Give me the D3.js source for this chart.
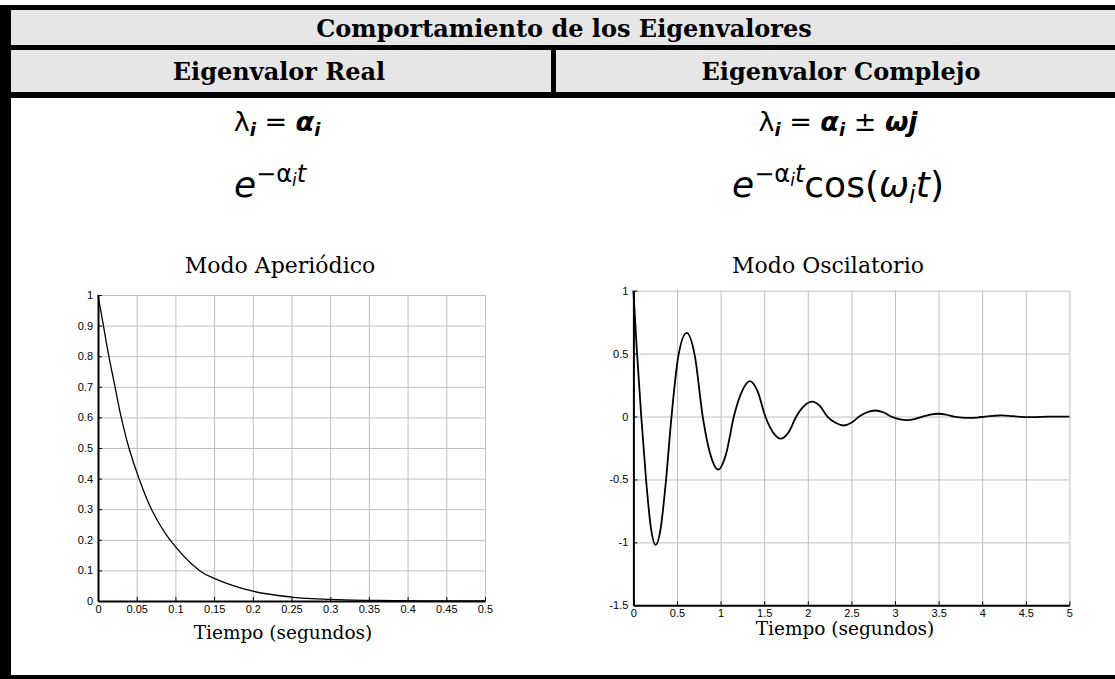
<!DOCTYPE html>
<html>
<head>
<meta charset="utf-8">
<script src="https://cdn.jsdelivr.net/npm/d3@7"></script>
<style>
  html, body { margin: 0; padding: 0; background: #fff; }
  svg { display: block; }
</style>
</head>
<body>
<svg id="chart" width="1115" height="679"></svg>
<script>
// ---- Aperiodic mode: e^(-a t), sampled where it crosses the grid ----
const realTime  = [0, 0.007, 0.014, 0.022, 0.030, 0.040, 0.053, 0.069, 0.093, 0.131, 0.15, 0.2, 0.25, 0.3, 0.35, 0.4, 0.45, 0.5];
const realValue = [1, 0.9, 0.8, 0.7, 0.6, 0.5, 0.4, 0.3, 0.2, 0.1, 0.074, 0.032, 0.013, 0.005, 0.002, 0.001, 0.0, 0.0];
const realXTicks = [0, 0.05, 0.1, 0.15, 0.2, 0.25, 0.3, 0.35, 0.4, 0.45, 0.5];
const realXLabels = ["0", "0.05", "0.1", "0.15", "0.2", "0.25", "0.3", "0.35", "0.4", "0.45", "0.5"];
const realYTicks = [0, 0.1, 0.2, 0.3, 0.4, 0.5, 0.6, 0.7, 0.8, 0.9, 1];
const realYLabels = ["0", "0.1", "0.2", "0.3", "0.4", "0.5", "0.6", "0.7", "0.8", "0.9", "1"];

// ---- Oscillatory mode: e^(-a t) cos(w t) ----
const oscTime = [0, 0.04, 0.09, 0.145, 0.2, 0.255, 0.31, 0.372, 0.437, 0.515, 0.611, 0.705, 0.795, 0.882, 0.972,
  1.062, 1.152, 1.245, 1.336, 1.425, 1.513, 1.6, 1.69, 1.78, 1.868, 1.958, 2.05, 2.138, 2.225, 2.318, 2.41,
  2.5, 2.59, 2.68, 2.773, 2.865, 2.955, 3.045, 3.135, 3.225, 3.315, 3.405, 3.497, 3.585, 3.675, 3.765, 3.855,
  3.945, 4.035, 4.13, 4.22, 4.31, 4.4, 4.58, 4.76, 5.0];
const oscValue = [1.0, 0.52, 0.0, -0.5, -0.88, -1.02, -0.9, -0.52, 0.0, 0.48, 0.665, 0.48, 0.0, -0.3, -0.422,
  -0.3, 0.0, 0.2, 0.282, 0.2, 0.0, -0.124, -0.175, -0.124, 0.0, 0.084, 0.118, 0.084, 0.0, -0.05, -0.071,
  -0.05, 0.0, 0.034, 0.048, 0.034, 0.0, -0.02, -0.029, -0.02, 0.0, 0.016, 0.022, 0.016, 0.0, -0.008, -0.011,
  -0.008, 0.0, 0.006, 0.009, 0.006, 0.0, -0.004, 0.0, 0.0];
const oscXTicks = [0, 0.5, 1, 1.5, 2, 2.5, 3, 3.5, 4, 4.5, 5];
const oscXLabels = ["0", "0.5", "1", "1.5", "2", "2.5", "3", "3.5", "4", "4.5", "5"];
const oscYTicks = [-1.5, -1, -0.5, 0, 0.5, 1];
const oscYLabels = ["-1.5", "-1", "-0.5", "0", "0.5", "1"];

// ---- Table text ----
const tableTitle = "Comportamiento de los Eigenvalores";
const columnTitles = ["Eigenvalor Real", "Eigenvalor Complejo"];
const modeTitles = ["Modo Aperiódico", "Modo Oscilatorio"];
const axisTitle = "Tiempo (segundos)";

const W = 1115, H = 679;
const svg = d3.select("#chart");
const serif = "'DejaVu Serif', serif";
const math = "'DejaVu Sans', sans-serif";

// ---- Table frame ----
svg.append("rect").attr("width", W).attr("height", H).attr("fill", "#fff");
const frame = svg.append("g");
frame.append("rect").attr("x", 11).attr("y", 10).attr("width", W - 11).attr("height", 35).attr("fill", "#e7e6e6");
frame.append("rect").attr("x", 11).attr("y", 50).attr("width", W - 11).attr("height", 42).attr("fill", "#e7e6e6");
frame.append("rect").attr("x", 0).attr("y", 5).attr("width", W).attr("height", 5).attr("fill", "#000");
frame.append("rect").attr("x", 0).attr("y", 45).attr("width", W).attr("height", 5).attr("fill", "#000");
frame.append("rect").attr("x", 0).attr("y", 92).attr("width", W).attr("height", 6).attr("fill", "#000");
frame.append("rect").attr("x", 551).attr("y", 50).attr("width", 5).attr("height", 42).attr("fill", "#000");
frame.append("rect").attr("x", 0).attr("y", 5).attr("width", 11).attr("height", H - 5).attr("fill", "#000");
frame.append("rect").attr("x", 0).attr("y", 675).attr("width", W).attr("height", 4).attr("fill", "#000");

svg.append("text").attr("x", 564).attr("y", 37).attr("text-anchor", "middle")
  .attr("font-family", serif).attr("font-weight", "bold").attr("font-size", 24).text(tableTitle);
const colCenters = [279, 841];
columnTitles.forEach((t, i) => {
  svg.append("text").attr("x", colCenters[i]).attr("y", 80).attr("text-anchor", "middle")
    .attr("font-family", serif).attr("font-weight", "bold").attr("font-size", 24).text(t);
});

// ---- Formulas ----
function formula(x, y, parts) {
  const t = svg.append("text").attr("x", x).attr("y", y).attr("text-anchor", "middle")
    .attr("font-family", math).attr("fill", "#000");
  parts.forEach(p => {
    const s = t.append("tspan").text(p.s).attr("font-size", p.size);
    if (p.dy) s.attr("dy", p.dy);
    if (p.it) s.attr("font-style", "italic");
    if (p.b) s.attr("font-weight", "bold");
  });
}
formula(277, 131, [
  { s: "λ", size: 27 },
  { s: "i", size: 18, it: 1, b: 1, dy: 5 },
  { s: " = ", size: 27, dy: -5 },
  { s: "α", size: 27, it: 1, b: 1 },
  { s: "i", size: 18, it: 1, b: 1, dy: 5 }
]);
formula(838, 131, [
  { s: "λ", size: 27 },
  { s: "i", size: 18, it: 1, b: 1, dy: 5 },
  { s: " = ", size: 27, dy: -5 },
  { s: "α", size: 27, it: 1, b: 1 },
  { s: "i", size: 18, it: 1, b: 1, dy: 5 },
  { s: " ± ", size: 27, dy: -5 },
  { s: "ωj", size: 27, it: 1, b: 1 }
]);
formula(270, 197, [
  { s: "e", size: 36, it: 1 },
  { s: "−α", size: 24, dy: -15 },
  { s: "i", size: 17, it: 1, dy: 4 },
  { s: "t", size: 24, it: 1, dy: -4 }
]);
formula(838, 197, [
  { s: "e", size: 36, it: 1 },
  { s: "−α", size: 24, dy: -15 },
  { s: "i", size: 17, it: 1, dy: 4 },
  { s: "t", size: 24, it: 1, dy: -4 },
  { s: "cos(", size: 36, dy: 15 },
  { s: "ω", size: 36, it: 1 },
  { s: "i", size: 24, it: 1, dy: 6 },
  { s: "t", size: 36, it: 1, dy: -6 },
  { s: ")", size: 36 }
]);

// ---- Plots ----
function plot(cfg) {
  const x = d3.scaleLinear().domain(cfg.xDomain).range([cfg.x0, cfg.x1]);
  const y = d3.scaleLinear().domain(cfg.yDomain).range([cfg.y0, cfg.y1]);
  const g = svg.append("g");

  // grid
  g.append("g").attr("transform", `translate(0,${cfg.y0})`)
    .call(d3.axisBottom(x).tickValues(cfg.xTicks).tickSize(-(cfg.y0 - cfg.y1)).tickFormat(""))
    .call(a => a.select(".domain").remove())
    .call(a => a.selectAll("line").attr("stroke", "#bfbfbf").attr("stroke-width", 1));
  g.append("g").attr("transform", `translate(${cfg.x0},0)`)
    .call(d3.axisLeft(y).tickValues(cfg.yTicks).tickSize(-(cfg.x1 - cfg.x0)).tickFormat(""))
    .call(a => a.select(".domain").remove())
    .call(a => a.selectAll("line").attr("stroke", "#bfbfbf").attr("stroke-width", 1));

  // curve
  const pts = cfg.t.map((t, i) => ({ t, v: cfg.v[i] }));
  g.append("path").datum(pts)
    .attr("fill", "none").attr("stroke", "#000").attr("stroke-width", cfg.lw)
    .attr("d", d3.line().x(d => x(d.t)).y(d => y(d.v)).curve(cfg.curve));

  // axes
  const styleAxis = a => {
    a.select(".domain").attr("stroke", "#000").attr("stroke-width", 2);
    a.selectAll(".tick line").attr("stroke", "#000").attr("stroke-width", 1);
    a.selectAll("text").attr("font-family", "'Liberation Sans', Arial, sans-serif")
      .attr("font-size", 11).attr("fill", "#000");
  };
  g.append("g").attr("transform", `translate(0,${cfg.y0})`)
    .call(d3.axisBottom(x).tickValues(cfg.xTicks).tickFormat((d, i) => cfg.xLabels[i])
      .tickSizeInner(-4).tickSizeOuter(0).tickPadding(4))
    .call(styleAxis);
  g.append("g").attr("transform", `translate(${cfg.x0},0)`)
    .call(d3.axisLeft(y).tickValues(cfg.yTicks).tickFormat((d, i) => cfg.yLabels[i])
      .tickSizeInner(-4).tickSizeOuter(0).tickPadding(5))
    .call(styleAxis);

  svg.append("text").attr("x", cfg.titleX).attr("y", cfg.titleY).attr("text-anchor", "middle")
    .attr("font-family", serif).attr("font-size", 22).text(cfg.title);
  svg.append("text").attr("x", cfg.labelX).attr("y", cfg.labelY).attr("text-anchor", "middle")
    .attr("font-family", serif).attr("font-size", 18.5).text(axisTitle);
}

plot({
  xDomain: [0, 0.5], yDomain: [0, 1], x0: 98, x1: 485, y0: 601, y1: 295,
  xTicks: realXTicks, xLabels: realXLabels, yTicks: realYTicks, yLabels: realYLabels,
  t: realTime, v: realValue, lw: 1.3, curve: d3.curveCatmullRom.alpha(0.5),
  title: modeTitles[0], titleX: 280, titleY: 273, labelX: 283, labelY: 639
});
plot({
  xDomain: [0, 5], yDomain: [-1.5, 1], x0: 633.4, x1: 1069.4, y0: 605.3, y1: 290.7,
  xTicks: oscXTicks, xLabels: oscXLabels, yTicks: oscYTicks, yLabels: oscYLabels,
  t: oscTime, v: oscValue, lw: 1.8, curve: d3.curveMonotoneX,
  title: modeTitles[1], titleX: 828, titleY: 273, labelX: 845, labelY: 635
});
</script>
</body>
</html>
